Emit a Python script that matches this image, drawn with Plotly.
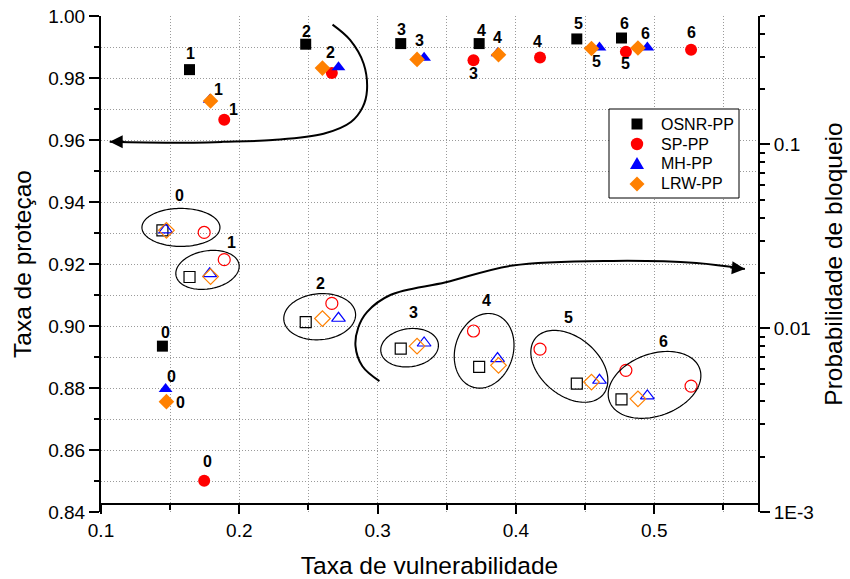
import numpy as np
import plotly.graph_objects as go

# ---------------- data ----------------
loads = ["0", "1", "2", "3", "4", "5", "6"]

osnr_vuln = [0.1444, 0.1640, 0.2480, 0.3167, 0.3734, 0.4440, 0.4763]
osnr_prot = [0.8935, 0.9827, 0.9909, 0.9911, 0.9911, 0.9926, 0.9929]
osnr_block = [0.0341, 0.0190, 0.0108, 0.00774, 0.00616, 0.00499, 0.00410]

sp_vuln = [0.1746, 0.1891, 0.2669, 0.3693, 0.4174, 0.4795, 0.5266]
sp_prot = [0.8501, 0.9665, 0.9816, 0.9857, 0.9866, 0.9885, 0.9891]
sp_block = [0.0332, 0.0236, 0.01365, 0.00966, 0.00769, 0.00590, 0.00484]

mh_vuln = [0.1467, 0.1786, 0.2717, 0.3336, 0.3867, 0.4604, 0.4950]
mh_prot = [0.8797, 0.9730, 0.9835, 0.9865, 0.9880, 0.9898, 0.9898]
mh_block = [0.0343, 0.0198, 0.01133, 0.00831, 0.00684, 0.00521, 0.00428]

lrw_vuln = [0.1473, 0.1792, 0.2601, 0.3285, 0.3874, 0.4546, 0.4882]
lrw_prot = [0.8756, 0.9726, 0.9832, 0.9860, 0.9875, 0.9895, 0.9897]
lrw_block = [0.0341, 0.0191, 0.01129, 0.00799, 0.00628, 0.00509, 0.00413]

x_range = [0.1, 0.575]
x_ticks = [0.1, 0.2, 0.3, 0.4, 0.5]
x_minor = [0.15, 0.25, 0.35, 0.45, 0.55]
left_range = [0.84, 1.00]
left_ticks = [0.84, 0.86, 0.88, 0.90, 0.92, 0.94, 0.96, 0.98, 1.00]
left_minor = [0.85, 0.87, 0.89, 0.91, 0.93, 0.95, 0.97, 0.99]
right_range = [1e-3, 0.5]
right_major = [1e-3, 1e-2, 1e-1]
right_major_text = ["1E-3", "0.01", "0.1"]

# group labels for the hollow (blocking) markers, in (x, left-axis) coords
group_label_x = [0.1565, 0.1940, 0.2585, 0.3258, 0.3787, 0.4379, 0.5070]
group_label_y = [0.9420, 0.9270, 0.9137, 0.9045, 0.9082, 0.9029, 0.8950]

# ellipses around groups: centre x, centre y(left axis), semi-axes (px), angle (deg)
ell_cx = [0.1578, 0.1770, 0.2581, 0.3231, 0.3770, 0.4386, 0.5002]
ell_cy = [0.9318, 0.9181, 0.9030, 0.8930, 0.8920, 0.8870, 0.8810]
ell_a = [39, 32, 36, 29, 38, 44, 48]
ell_b = [19, 19, 23, 19, 29, 29, 31]
ell_ang = [0, 10, 5, 8, 73, -40, 20]

# curved arrows (x, left-axis)
arrow1_x = [0.2674, 0.2802, 0.2899, 0.2923, 0.2892, 0.2807, 0.2609, 0.2241, 0.1879, 0.1517, 0.1063]
arrow1_y = [0.9972, 0.9922, 0.9846, 0.9760, 0.9706, 0.9658, 0.9620, 0.9600, 0.9594, 0.9591, 0.9594]
arrow2_x = [0.3013, 0.2890, 0.2840, 0.2860, 0.2923, 0.3092, 0.3493, 0.3976, 0.4700, 0.5304, 0.5655]
arrow2_y = [0.8822, 0.8870, 0.8935, 0.8995, 0.9045, 0.9100, 0.9141, 0.9195, 0.9210, 0.9203, 0.9184]

# ---------------- geometry ----------------
W, H = 850, 579
ML, MR, MT, MB = 101, 92, 16, 67
PW = W - ML - MR
PH = H - MT - MB
PX_X = PW / (x_range[1] - x_range[0])
PX_Y = PH / (left_range[1] - left_range[0])


def paper_x(vx):
    return (vx - ML) / PW


def paper_y(vy):
    return 1 - (vy - MT) / PH


FONT = "Liberation Sans, Arial, sans-serif"

series = [
    dict(name="OSNR-PP", color="#000000", sym="square", size=11, x=osnr_vuln, p=osnr_prot, b=osnr_block),
    dict(name="SP-PP", color="#FF0000", sym="circle", size=12, x=sp_vuln, p=sp_prot, b=sp_block),
    dict(name="MH-PP", color="#0000FF", sym="triangle-up", size=12, x=mh_vuln, p=mh_prot, b=mh_block),
    dict(name="LRW-PP", color="#FF8000", sym="diamond", size=12, x=lrw_vuln, p=lrw_prot, b=lrw_block),
]

fig = go.Figure()

# ellipses
for cx, cy, a, b, ang in zip(ell_cx, ell_cy, ell_a, ell_b, ell_ang):
    t = np.linspace(0, 2 * np.pi, 120)
    th = np.radians(ang)
    ex = a * np.cos(t) * np.cos(th) - b * np.sin(t) * np.sin(th)
    ey = a * np.cos(t) * np.sin(th) + b * np.sin(t) * np.cos(th)
    xs = cx + ex / PX_X
    ys = cy + ey / PX_Y
    path = "M " + " L ".join(f"{u:.5f},{v:.5f}" for u, v in zip(xs, ys)) + " Z"
    fig.add_shape(type="path", path=path, xref="x", yref="y",
                  line=dict(color="black", width=1.2), layer="above")

# arrows (curves)
for ax_, ay_ in [(arrow1_x, arrow1_y), (arrow2_x, arrow2_y)]:
    fig.add_trace(go.Scatter(x=ax_, y=ay_, mode="lines",
                             line=dict(color="black", width=2, shape="spline", smoothing=1.0),
                             showlegend=False, hoverinfo="skip", yaxis="y"))

# filled markers: protection rate (left axis)
for s in series:
    fig.add_trace(go.Scatter(
        x=s["x"], y=s["p"], mode="markers", name=s["name"], showlegend=False,
        marker=dict(symbol=s["sym"], size=s["size"], color=s["color"], line=dict(width=0)),
        yaxis="y", hoverinfo="skip"))

# hollow markers: blocking probability (right axis)
for s in series:
    fig.add_trace(go.Scatter(
        x=s["x"], y=s["b"], mode="markers", name=s["name"] + " bloqueio", showlegend=False,
        marker=dict(symbol=s["sym"] + "-open", size=s["size"], color=s["color"],
                    line=dict(width=1.2, color=s["color"])),
        yaxis="y2", hoverinfo="skip"))

# arrow heads
fig.add_annotation(x=arrow1_x[-1], y=arrow1_y[-1], xref="x", yref="y", ax=16, ay=0,
                   showarrow=True, arrowhead=2, arrowsize=1.3, arrowwidth=2, arrowcolor="black", text="")
fig.add_annotation(x=arrow2_x[-1], y=arrow2_y[-1], xref="x", yref="y", ax=-16, ay=-1.5,
                   showarrow=True, arrowhead=2, arrowsize=1.3, arrowwidth=2, arrowcolor="black", text="")

# point labels (filled markers): (series index, load index, dx px, dy px)
point_labels = [
    (0, 0, 3, 14), (0, 1, 1, 16), (0, 2, 1, 13), (0, 3, 1, 14), (0, 4, 2, 13), (0, 5, 2, 15), (0, 6, 3, 15),
    (1, 0, 3, 19), (1, 1, 9, 10), (1, 3, 0, -13), (1, 4, -3, 16), (1, 5, 0, -12), (1, 6, 0, 17),
    (2, 0, 6, 12), (2, 1, 9, 10), (2, 6, -2, 14),
    (3, 0, 14, -1), (3, 2, 8, 16), (3, 3, 2, 19), (3, 4, -1, 17), (3, 5, 5, -13),
]
for si, li, dx, dy in point_labels:
    s = series[si]
    fig.add_annotation(x=s["x"][li], y=s["p"][li], xref="x", yref="y", text=f"<b>{loads[li]}</b>",
                       showarrow=False, xshift=dx, yshift=dy,
                       font=dict(family=FONT, size=16, color="black"))

for i, (gx, gy) in enumerate(zip(group_label_x, group_label_y)):
    fig.add_annotation(x=gx, y=gy, xref="x", yref="y", text=f"<b>{loads[i]}</b>", showarrow=False,
                       font=dict(family=FONT, size=16, color="black"))

# ---------------- legend (drawn box) ----------------
fig.add_shape(type="rect", xref="paper", yref="paper",
              x0=paper_x(609), x1=paper_x(739), y0=paper_y(198), y1=paper_y(109),
              line=dict(color="black", width=1), fillcolor="white", layer="above")
leg_rows = [124, 144, 164, 184]
leg_mx, leg_tx = 637, 659
for s, ry in zip(series, leg_rows):
    common = dict(xref="paper", yref="paper", xsizemode="pixel", ysizemode="pixel",
                  xanchor=paper_x(leg_mx), yanchor=paper_y(ry),
                  fillcolor=s["color"], line=dict(width=0), layer="above")
    if s["sym"] == "square":
        fig.add_shape(type="rect", x0=-5.5, x1=5.5, y0=-5.5, y1=5.5, **common)
    elif s["sym"] == "circle":
        fig.add_shape(type="circle", x0=-6.2, x1=6.2, y0=-6.2, y1=6.2, **common)
    elif s["sym"] == "triangle-up":
        fig.add_shape(type="path", path="M -7,-5 L 7,-5 L 0,7 Z", **common)
    else:
        fig.add_shape(type="path", path="M 0,-7.5 L 7.5,0 L 0,7.5 L -7.5,0 Z", **common)
    fig.add_annotation(x=paper_x(leg_tx), y=paper_y(ry), xref="paper", yref="paper",
                       text=s["name"], showarrow=False, xanchor="left", yanchor="middle",
                       font=dict(family=FONT, size=16, color="black"))

grid_col = "#9a9a9a"
grid_dash = "1px,2px"
title_size = 24.5

fig.update_layout(
    width=W, height=H,
    margin=dict(l=ML, r=MR, t=MT, b=MB, pad=0, autoexpand=False),
    plot_bgcolor="white", paper_bgcolor="white",
    font=dict(family=FONT, color="black", size=17),
    showlegend=False,
    xaxis=dict(range=x_range, anchor="free", position=8 / PH, automargin=False,
               tickmode="array", tickvals=x_ticks, ticktext=[f"{v:.1f}" for v in x_ticks],
               ticks="outside", ticklen=9, tickwidth=2, tickcolor="black",
               showline=True, linewidth=2, linecolor="black", zeroline=False,
               showgrid=True, gridcolor=grid_col, gridwidth=1, griddash=grid_dash,
               minor=dict(tickmode="array", tickvals=x_minor, ticks="outside", ticklen=5, tickwidth=2,
                          tickcolor="black", showgrid=True, gridcolor=grid_col, gridwidth=1, griddash=grid_dash),
               tickfont=dict(size=19), ticklabeloverflow="allow",
               title=dict(text="Taxa de vulnerabilidade", font=dict(size=title_size), standoff=16)),
    xaxis2=dict(range=x_range, overlaying="x", side="top", anchor="y", automargin=False,
                tickmode="array", tickvals=x_ticks, ticks="inside", ticklen=9, tickwidth=2, tickcolor="black",
                minor=dict(tickmode="array", tickvals=x_minor, ticks="inside", ticklen=7, tickwidth=2,
                           tickcolor="black", showgrid=False),
                showticklabels=False, showline=True, linewidth=2, linecolor="black",
                showgrid=False, zeroline=False),
    yaxis=dict(range=left_range, automargin=False,
               tickmode="array", tickvals=left_ticks, ticktext=[f"{v:.2f}" for v in left_ticks],
               ticks="outside", ticklen=10, tickwidth=2, tickcolor="black",
               showline=True, linewidth=2, linecolor="black", zeroline=False,
               showgrid=True, gridcolor=grid_col, gridwidth=1, griddash=grid_dash,
               minor=dict(tickmode="array", tickvals=left_minor, ticks="outside", ticklen=5, tickwidth=2,
                          tickcolor="black", showgrid=True, gridcolor=grid_col, gridwidth=1, griddash=grid_dash),
               tickfont=dict(size=19), ticklabeloverflow="allow",
               title=dict(text="Taxa de proteçao", font=dict(size=title_size), standoff=10)),
    yaxis2=dict(type="log", range=[np.log10(right_range[0]), np.log10(right_range[1])],
                overlaying="y", side="right", anchor="x", automargin=False,
                tickmode="array", tickvals=right_major, ticktext=right_major_text,
                ticks="outside", ticklen=10, tickwidth=2, tickcolor="black",
                minor=dict(tickmode="array",
                           tickvals=[m * 10.0 ** e for e in (-3, -2, -1) for m in range(2, 10) if m * 10.0 ** e <= 0.5],
                           ticks="outside", ticklen=5, tickwidth=2, tickcolor="black", showgrid=False),
                showline=True, linewidth=2, linecolor="black", showgrid=False, zeroline=False,
                tickfont=dict(size=19), ticklabeloverflow="allow",
                title=dict(text="Probabilidade de bloqueio", font=dict(size=title_size), standoff=12)),
)

fig.write_html("out.html", config={"displayModeBar": False, "staticPlot": True},
               post_script="document.body.style.margin='0px';")
